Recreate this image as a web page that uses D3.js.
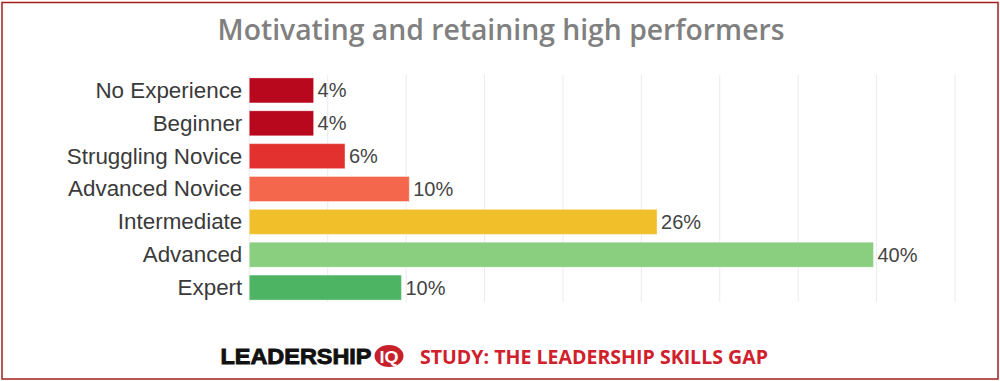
<!DOCTYPE html>
<html><head><meta charset="utf-8">
<script src="https://cdn.jsdelivr.net/npm/d3@7"></script>
<style>body{margin:0;background:#fff}svg{display:block}</style>
</head><body>
<svg id="c" width="1000" height="381"></svg>
<script>
const categories = ["No Experience","Beginner","Struggling Novice","Advanced Novice","Intermediate","Advanced","Expert"];
const values = [4.1, 4.1, 6.1, 10.2, 26.0, 39.8, 9.7];
const valueLabels = ["4%","4%","6%","10%","26%","40%","10%"];
const barColors = ["#b7081e","#b7081e","#e2312e","#f4674c","#f1bf29","#8acf7f","#4db464"];
const xTicks = [0,5,10,15,20,25,30,35,40,45];
const title = "Motivating and retaining high performers";
const footerBrand = "LEADERSHIP";
const footerStudy = "STUDY: THE LEADERSHIP SKILLS GAP";

const svg = d3.select("#c");
svg.append("rect").attr("x",2).attr("y",2.5).attr("width",996).attr("height",376.5)
  .attr("fill","#fff").attr("stroke","#a41e1f").attr("stroke-width",1.5);

const x = d3.scaleLinear().domain([0,45]).range([249.3, 955]);
const y = d3.scaleBand().domain(categories).range([74,304]).paddingInner(0.24).paddingOuter(0.12);

// gridlines
svg.append("g").selectAll("line").data(xTicks).join("line")
  .attr("x1",d=>x(d)).attr("x2",d=>x(d)).attr("y1",75).attr("y2",302)
  .attr("stroke","#ebebeb").attr("stroke-width",1);

// bars
svg.append("g").selectAll("rect").data(categories).join("rect")
  .attr("x",x(0)).attr("y",d=>y(d))
  .attr("width",(d,i)=>x(values[i])-x(0)).attr("height",y.bandwidth())
  .attr("fill",(d,i)=>barColors[i]).attr("stroke","#ffffff").attr("stroke-opacity",0.35).attr("stroke-width",1);

// category labels
const yAxis = svg.append("g").attr("transform",`translate(${x(0)},0)`)
  .call(d3.axisLeft(y).tickSize(0).tickPadding(7));
yAxis.select(".domain").remove();
yAxis.selectAll("text").attr("font-family","Liberation Sans, Arial, sans-serif")
  .attr("font-size",22.4).attr("fill","#3a3a3a").attr("dy","0.33em");

// value labels
svg.append("g").selectAll("text").data(categories).join("text")
  .attr("x",(d,i)=>x(values[i])+4).attr("y",d=>y(d)+y.bandwidth()/2).attr("dy","0.35em")
  .attr("font-family","Liberation Sans, Arial, sans-serif").attr("font-size",20).attr("fill","#444")
  .text((d,i)=>valueLabels[i]);

// title
const t = svg.append("text").attr("x",501).attr("y",40).attr("text-anchor","middle")
  .attr("font-family","Open Sans, sans-serif").attr("font-weight",600).attr("font-size",28)
  .attr("fill","#808080").text(title);
const tw = t.node().getComputedTextLength();
t.attr("font-size", 28*567/tw);

// footer
svg.append("text").attr("x",220.5).attr("y",364).attr("font-family","Liberation Sans, Arial, sans-serif")
  .attr("font-weight",700).attr("font-size",22).attr("textLength",151).attr("lengthAdjust","spacingAndGlyphs")
  .attr("fill","#111").attr("stroke","#111").attr("stroke-width",0.9).text(footerBrand);
svg.append("ellipse").attr("cx",389).attr("cy",356).attr("rx",14.5).attr("ry",11).attr("fill","#c8202b");
svg.append("text").attr("x",389).attr("y",362.5).attr("text-anchor","middle")
  .attr("font-family","Liberation Sans, sans-serif").attr("font-weight",700)
  .attr("font-size",17).attr("textLength",19).attr("lengthAdjust","spacingAndGlyphs")
  .attr("fill","#fff").text("IQ");
svg.append("text").attr("x",420).attr("y",364).attr("font-family","Open Sans, sans-serif")
  .attr("font-weight",700).attr("font-size",19.5).attr("textLength",348).attr("lengthAdjust","spacingAndGlyphs")
  .attr("fill","#d0202b").text(footerStudy);
</script>
</body></html>
